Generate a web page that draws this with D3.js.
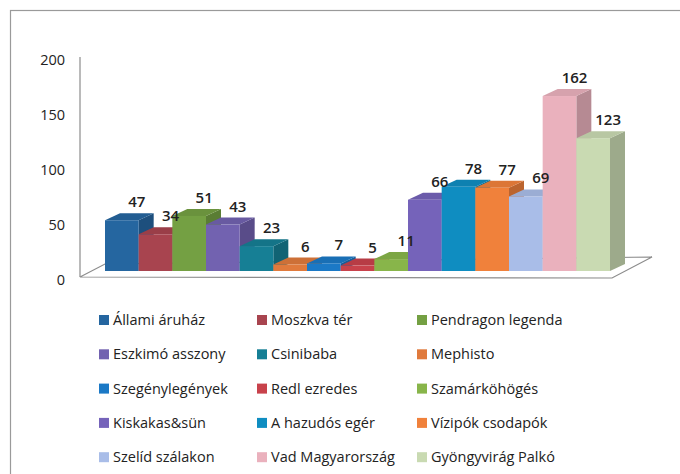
<!DOCTYPE html>
<html>
<head>
<meta charset="utf-8">
<script src="https://cdn.jsdelivr.net/npm/d3@7"></script>
<style>
  body { margin: 0; background: #fff; }
  svg { display: block; }
  text { font-family: "Open Sans", "DejaVu Sans", sans-serif; fill: #222; }
</style>
</head>
<body>
<div id="container"></div>
<script>
// film titles (series), in the order of the bars and legend
var titles = ["Állami áruház", "Moszkva tér", "Pendragon legenda",
              "Eszkimó asszony", "Csinibaba", "Mephisto",
              "Szegénylegények", "Redl ezredes", "Szamárköhögés",
              "Kiskakas&sün", "A hazudós egér", "Vízipók csodapók",
              "Szelíd szálakon", "Vad Magyarország", "Gyöngyvirág Palkó"];
var values = [47, 34, 51, 43, 23, 6, 7, 5, 11, 66, 78, 77, 69, 162, 123];
var colors = ["#2566a0", "#a8444f", "#74a043", "#7262b0", "#167f95", "#e07a3c",
              "#1b79c6", "#c8424b", "#88b54a", "#7563ba", "#0f8dc1", "#f0813b",
              "#a9bde8", "#eab1bd", "#c9dab2"];
var yTicks = [0, 50, 100, 150, 200];

var W = 680, H = 474;
var depth = {x: 15, y: -7};   // oblique offset of the 3d bars

var svg = d3.select("#container").append("svg")
    .attr("width", W).attr("height", H);

// chart frame (right and bottom edges run off the picture)
svg.append("rect")
    .attr("x", 10.5).attr("y", 10.5)
    .attr("width", W + 10).attr("height", H + 10)
    .attr("fill", "none").attr("stroke", "#9a9a9a").attr("stroke-width", 1.2);

var x = d3.scaleBand().domain(titles).range([105, 610]).padding(0);
var y = d3.scaleLinear().domain([0, 200]).range([271, 55]);
// tick labels sit on the back wall
var yWall = d3.scaleLinear().domain([0, 200]).range([280, 60]);

var g = svg.append("g");

// floor
var x0 = x.range()[0], x1 = x.range()[1], y0 = y(0);
g.append("path")
    .attr("d", "M" + (x0 - 25) + "," + (y0 + 6) +
               "L" + (x1 + 2) + "," + (y0 + 7) +
               "L" + (x1 + 42) + "," + (y0 - 14) +
               "L" + x0 + "," + (y0 - 7) + "Z")
    .attr("fill", "#fff").attr("stroke", "#8c8c8c").attr("stroke-width", 1.2);

// vertical axis line
g.append("line")
    .attr("x1", x0 - 25).attr("x2", x0 - 25)
    .attr("y1", yWall(200) - 3).attr("y2", y0 + 6)
    .attr("stroke", "#8c8c8c").attr("stroke-width", 1.2);

g.selectAll("text.tick").data(yTicks).enter().append("text")
    .attr("class", "tick")
    .attr("x", 65).attr("y", function(d) { return yWall(d); })
    .attr("dy", "0.35em")
    .attr("text-anchor", "end")
    .style("font-size", "14.5px")
    .text(function(d) { return d; });

// bars: side, top, front
var bars = g.selectAll("g.bar").data(values).enter().append("g")
    .attr("class", "bar");

bars.append("path")
    .attr("d", function(d, i) {
        var l = x(titles[i]) + x.bandwidth(), t = y(d), b = y(0);
        return "M" + l + "," + b + "L" + l + "," + t +
               "L" + (l + depth.x) + "," + (t + depth.y) +
               "L" + (l + depth.x) + "," + (b + depth.y) + "Z";
    })
    .attr("fill", function(d, i) { return d3.color(colors[i]).darker(0.7); });

bars.append("path")
    .attr("d", function(d, i) {
        var l = x(titles[i]), r = l + x.bandwidth(), t = y(d);
        return "M" + l + "," + t + "L" + r + "," + t +
               "L" + (r + depth.x) + "," + (t + depth.y) +
               "L" + (l + depth.x) + "," + (t + depth.y) + "Z";
    })
    .attr("fill", function(d, i) { return d3.color(colors[i]).darker(0.25); });

bars.append("rect")
    .attr("x", function(d, i) { return x(titles[i]); })
    .attr("y", function(d) { return y(d); })
    .attr("width", x.bandwidth())
    .attr("height", function(d) { return y(0) - y(d); })
    .attr("fill", function(d, i) { return colors[i]; });

// value labels on top of everything
g.append("g").selectAll("text").data(values).enter().append("text")
    .attr("x", function(d, i) { return x(titles[i]) + x.bandwidth() / 2 + depth.x; })
    .attr("y", function(d) { return y(d) + depth.y - 6; })
    .attr("text-anchor", "middle")
    .style("font-size", "15px")
    .style("font-weight", "600")
    .text(function(d) { return d; });

// legend, 3 columns
var colX = [99, 257, 417], rowY = d3.range(5).map(function(r) { return 320 + r * 34.3; });
var leg = svg.selectAll("g.legend").data(titles).enter().append("g")
    .attr("class", "legend")
    .attr("transform", function(d, i) {
        return "translate(" + colX[i % 3] + "," + rowY[Math.floor(i / 3)] + ")";
    });
leg.append("rect")
    .attr("x", 0).attr("y", -5).attr("width", 10).attr("height", 10)
    .attr("fill", function(d, i) { return colors[i]; });
leg.append("text")
    .attr("x", 14).attr("dy", "0.35em")
    .style("font-size", "14.5px")
    .style("font-weight", "500")
    .text(function(d) { return d; });
</script>
</body>
</html>
